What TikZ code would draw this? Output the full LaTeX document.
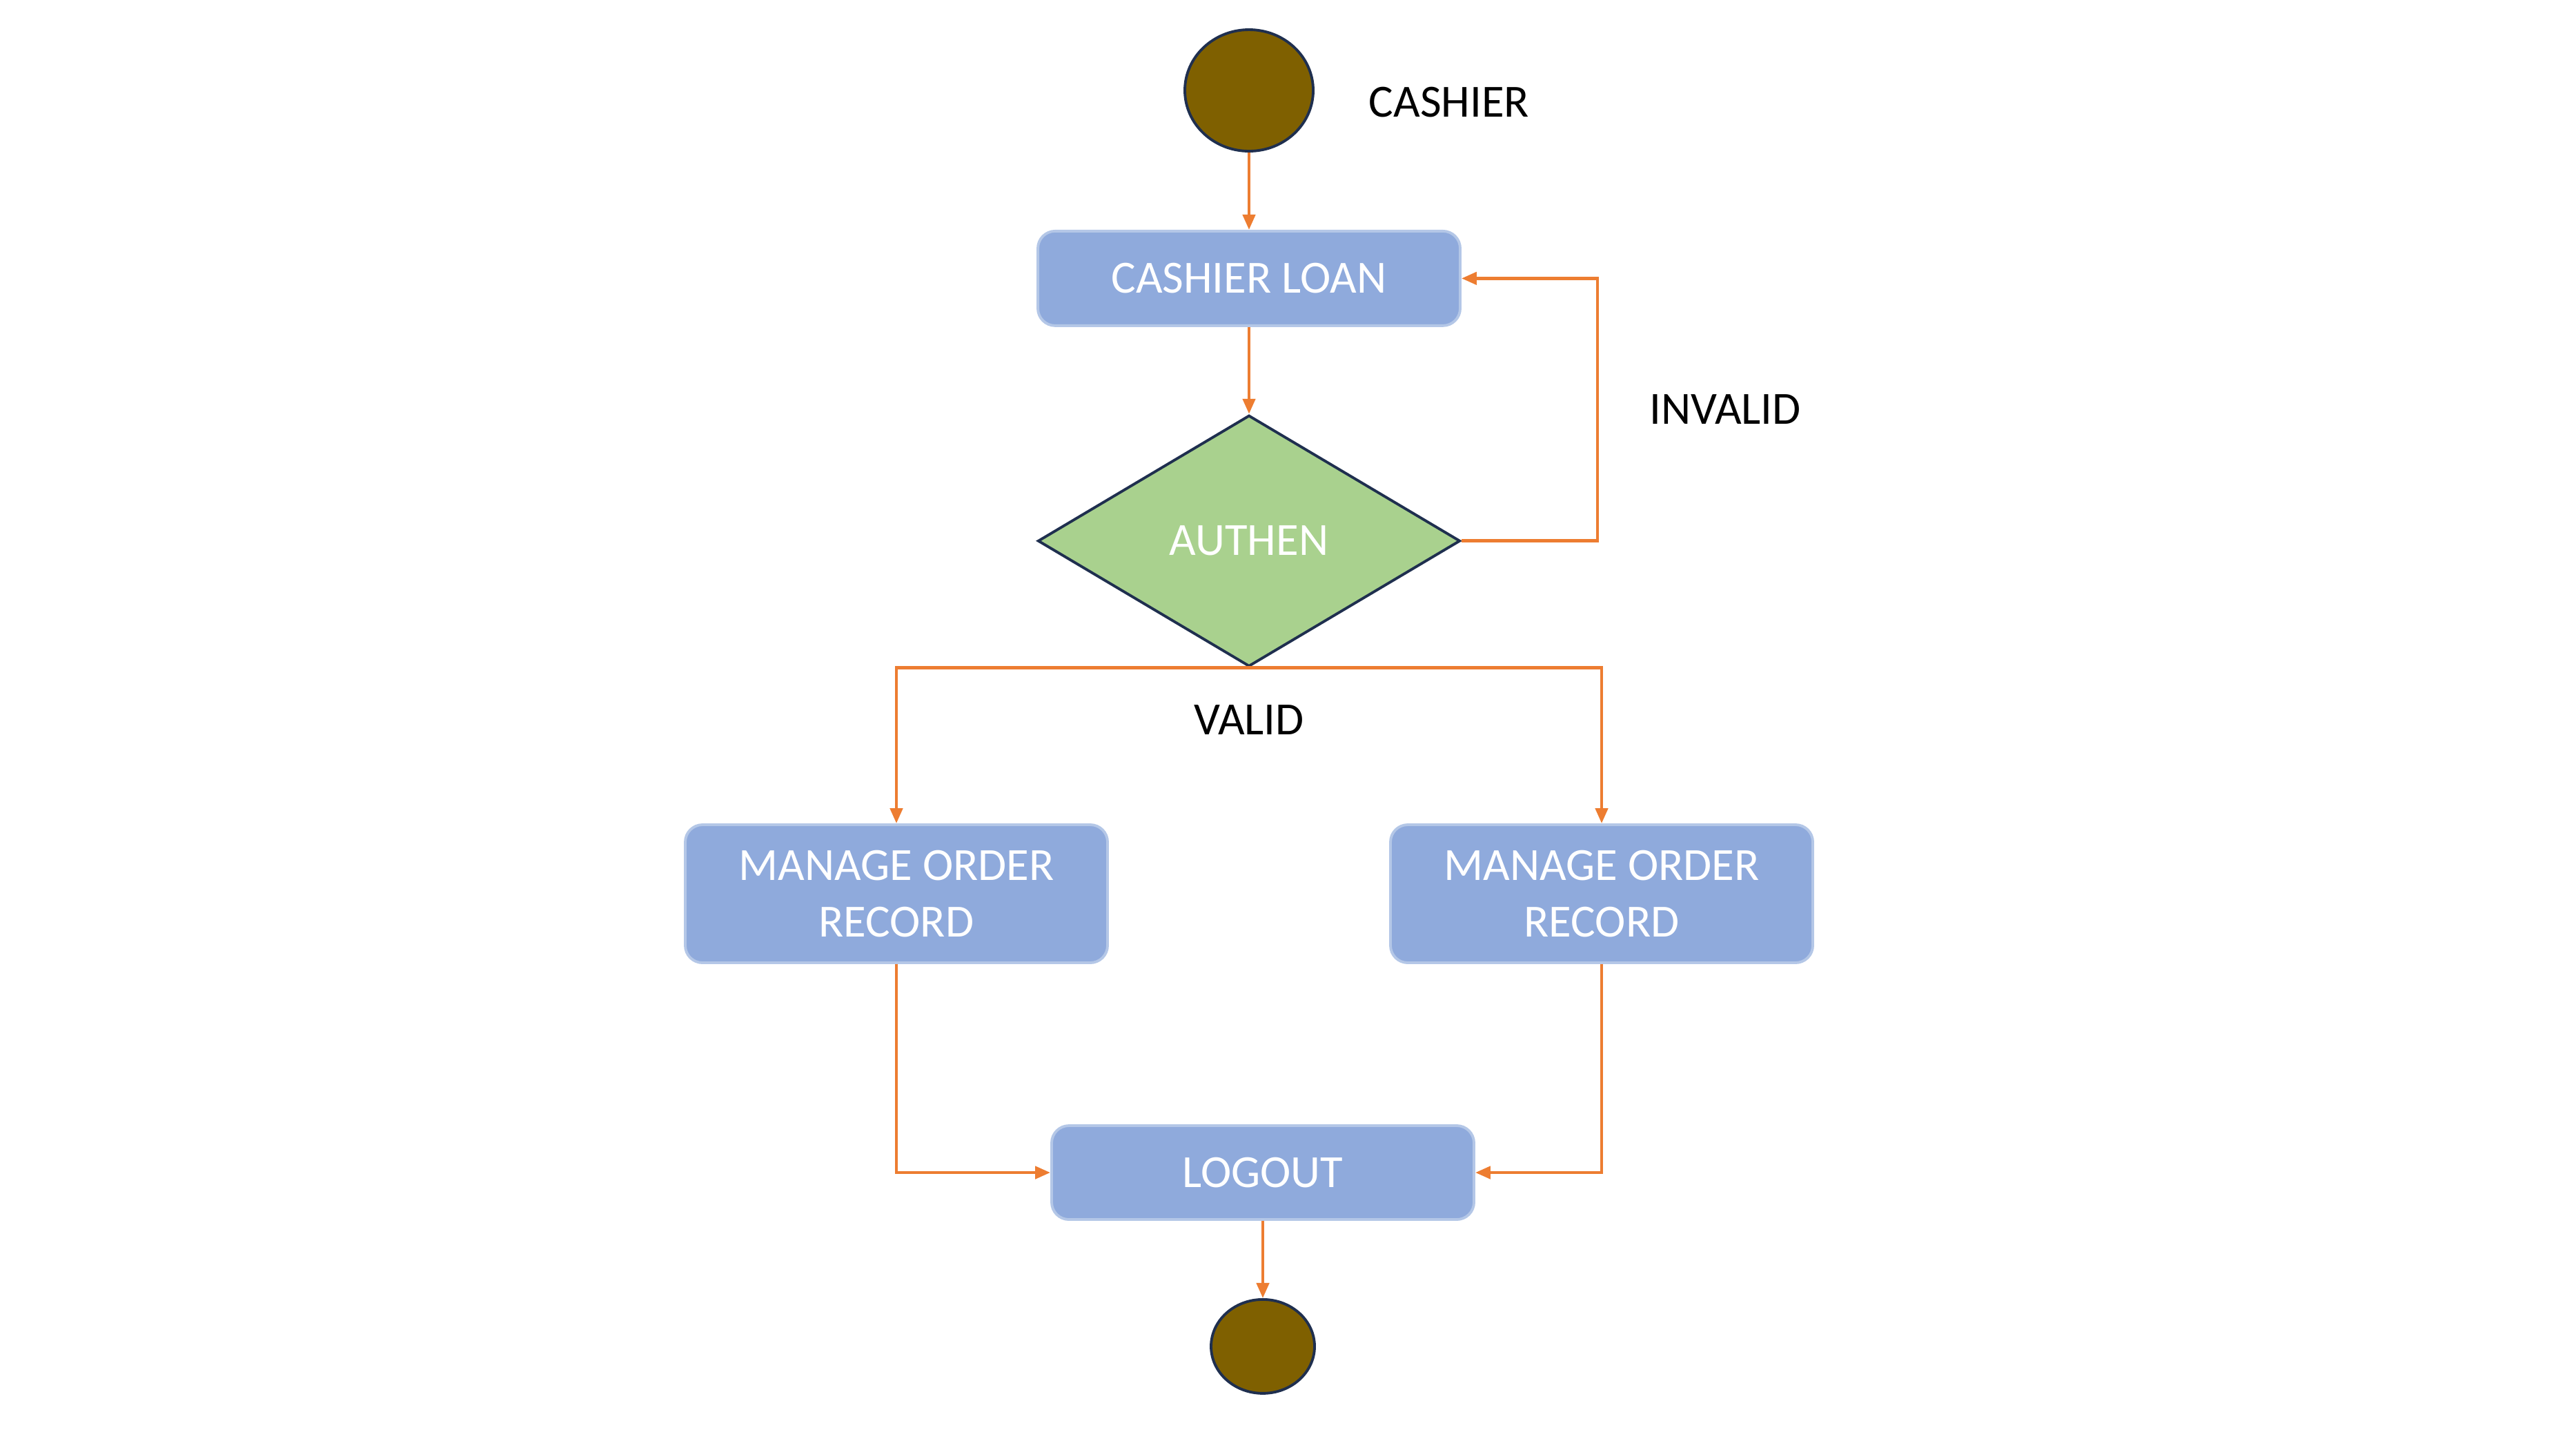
\documentclass[tikz,border=0pt]{standalone}
\usepackage{fontspec}
\setmainfont{Carlito}
\usetikzlibrary{arrows.meta,positioning,shapes.geometric}
\definecolor{boxblue}{HTML}{8FAADC}
\definecolor{boxrim}{HTML}{B4C7E7}
\definecolor{authgreen}{HTML}{A9D18E}
\definecolor{rimnavy}{HTML}{1F2F4F}
\definecolor{dotbrown}{HTML}{7F6000}
\definecolor{flowline}{HTML}{ED7D31}

\begin{document}
\begin{tikzpicture}[every node/.style={font=\fontsize{19}{23.6}\selectfont},
                    state/.style={rectangle,rounded corners=0.25cm,fill=boxblue,draw=boxrim,line width=1.1pt,
                                  text=white,align=center,minimum width=6.12cm},
                    check/.style={diamond,fill=authgreen,draw=rimnavy,line width=1.1pt,text=white,
                                  minimum width=6.12cm,minimum height=3.64cm,inner sep=0pt},
                    dot/.style={ellipse,fill=dotbrown,draw=rimnavy,line width=1.1pt},
                    tag/.style={inner sep=0pt,text=black},
                    flow/.style={draw=flowline,line width=1.3pt,-{Triangle[length=0.22cm,width=0.18cm]}}]
\useasboundingbox (0,0) rectangle (37.33,-21);

\node[dot,minimum width=1.86cm,minimum height=1.76cm] (start) at (18.1,-1.31) {};
\node[tag] (cashier) at (21.0,-1.48) {CASHIER};

\node[state,below=1.12cm of start,minimum height=1.37cm] (loan) {CASHIER LOAN};
\node[check,below=1.26cm of loan] (authen) {AUTHEN};

\coordinate[right=1.97cm of authen.east] (invR);
\node[tag] (invalid) at (25.0,-5.93) {INVALID};
\node[tag] (valid) at (18.1,-10.43) {VALID};

\node[state,minimum height=2.0cm] (mor1) at (12.99,-12.95) {MANAGE ORDER\\RECORD};
\node[state,minimum height=2.0cm] (mor2) at (23.21,-12.95) {MANAGE ORDER\\RECORD};

\node[state,minimum height=1.36cm] (logout) at (18.3,-16.99) {LOGOUT};
\node[dot,below=1.12cm of logout,minimum width=1.5cm,minimum height=1.36cm] (stop) {};

\draw[flow] (start) -- (loan);
\draw[flow] (loan) -- (authen);
\draw[flow] (authen.east) -- (invR) |- (loan.east);
\draw[flow] (authen.south) -| (mor1.north);
\draw[flow] (authen.south) -| (mor2.north);
\draw[flow] (mor1.south) |- (logout.west);
\draw[flow] (mor2.south) |- (logout.east);
\draw[flow] (logout) -- (stop);

\end{tikzpicture}
\end{document}
